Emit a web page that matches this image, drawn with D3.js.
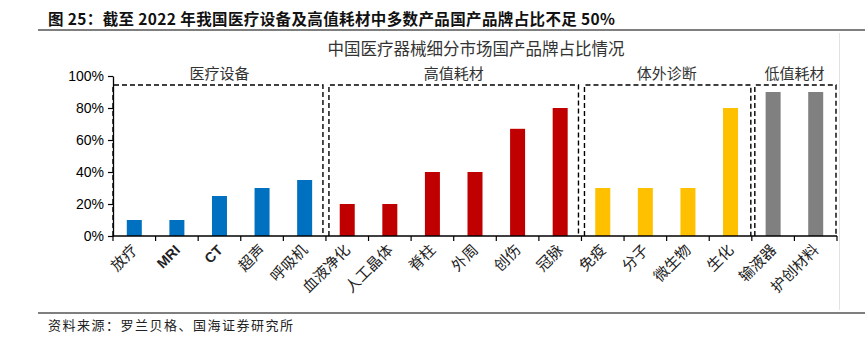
<!DOCTYPE html>
<html>
<head>
<meta charset="utf-8">
<script src="https://cdn.jsdelivr.net/npm/d3@7"></script>
<style>
  html, body { margin: 0; padding: 0; background: #fff; }
  svg { display: block; }
</style>
</head>
<body>
<svg id="chart" width="868" height="344"></svg>
<script>
// Product categories, grouped by segment
const categories = ["放疗", "MRI", "CT", "超声", "呼吸机",
  "血液净化", "人工晶体", "脊柱", "外周", "创伤", "冠脉",
  "免疫", "分子", "微生物", "生化",
  "输液器", "护创材料"];
// Share of domestic brands (%)
const shares = [10, 10, 25, 30, 35,
  20, 20, 40, 40, 67, 80,
  30, 30, 30, 80,
  90, 90];
// Segment of each category
const groupOf = [0, 0, 0, 0, 0, 1, 1, 1, 1, 1, 1, 2, 2, 2, 2, 3, 3];
const groupNames = ["医疗设备", "高值耗材", "体外诊断", "低值耗材"];
const groupColors = ["#0070C0", "#C00000", "#FFC000", "#808080"];
const yTicks = [0, 20, 40, 60, 80, 100];

const svg = d3.select("#chart");
const cjk = "'Noto Sans CJK SC', 'Noto Sans', sans-serif";

// Header
svg.append("text")
  .attr("x", 48).attr("y", 25)
  .attr("font-family", cjk).attr("font-weight", "bold")
  .attr("font-size", 15.5).attr("fill", "#111")
  .attr("textLength", 567).attr("lengthAdjust", "spacing")
  .text("图 25：截至 2022 年我国医疗设备及高值耗材中多数产品国产品牌占比不足 50%");
svg.append("line").attr("x1", 38).attr("x2", 865).attr("y1", 30).attr("y2", 30)
  .attr("stroke", "#555").attr("stroke-width", 1.3);

// Footer
svg.append("line").attr("x1", 38).attr("x2", 865).attr("y1", 313).attr("y2", 313)
  .attr("stroke", "#555").attr("stroke-width", 1.3);
svg.append("text")
  .attr("x", 48).attr("y", 330)
  .attr("font-family", cjk).attr("font-size", 13).attr("fill", "#222")
  .attr("textLength", 245).attr("lengthAdjust", "spacing")
  .text("资料来源：罗兰贝格、国海证券研究所");

// Frame edge on the right
svg.append("line").attr("x1", 839.5).attr("x2", 839.5).attr("y1", 33).attr("y2", 310)
  .attr("stroke", "#e2e2e2").attr("stroke-width", 1);

// Chart title
svg.append("text")
  .attr("x", 476).attr("y", 55).attr("text-anchor", "middle")
  .attr("font-family", cjk).attr("font-size", 16.5).attr("fill", "#333")
  .text("中国医疗器械细分市场国产品牌占比情况");

// Scales
const x = d3.scaleBand().domain(categories).range([113, 837]).paddingInner(0).paddingOuter(0);
const y = d3.scaleLinear().domain([0, 100]).range([236, 76]);
const barW = 15;

// Dashed group boxes
const groupIdx = d3.range(groupNames.length);
const boxes = groupIdx.map(g => {
  const members = categories.filter((c, i) => groupOf[i] === g);
  const first = x(members[0]), last = x(members[members.length - 1]) + x.bandwidth();
  return { g, x0: first, x1: last };
});
const boxInset = [[0, -3], [3, -3], [3, -1], [3, -1]];
boxes.forEach(b => {
  const [l, r] = boxInset[b.g];
  const x0 = b.x0 + l, x1 = b.x1 + r, top = 85;
  svg.append("path")
    .attr("d", `M${x0},${y(0)}V${top}H${x1}V${y(0)}`)
    .attr("fill", "none").attr("stroke", "#000")
    .attr("stroke-width", 1.4).attr("stroke-dasharray", "5,3");
  svg.append("text")
    .attr("x", (b.x0 + b.x1) / 2).attr("y", 79).attr("text-anchor", "middle")
    .attr("font-family", cjk).attr("font-size", 15).attr("fill", "#333")
    .text(groupNames[b.g]);
});

// Bars
svg.append("g").selectAll("rect").data(categories).join("rect")
  .attr("x", d => x(d) + (x.bandwidth() - barW) / 2)
  .attr("y", (d, i) => y(shares[i]))
  .attr("width", barW)
  .attr("height", (d, i) => y(0) - y(shares[i]))
  .attr("fill", (d, i) => groupColors[groupOf[i]]);

// Y axis
const yAxis = svg.append("g").attr("transform", "translate(113,0)")
  .call(d3.axisLeft(y).tickValues(yTicks).tickFormat(d => d + "%").tickSize(5).tickSizeOuter(0));
yAxis.select(".domain").attr("stroke", "#000").attr("stroke-width", 1.3);
yAxis.selectAll(".tick line").attr("stroke", "#000").attr("stroke-width", 1.2);
yAxis.selectAll(".tick text")
  .attr("font-family", "'Liberation Sans', Arial, sans-serif")
  .attr("font-size", 14).attr("fill", "#000").attr("x", -9);

// X axis: ticks at band boundaries
const xAxisG = svg.append("g");
xAxisG.append("line").attr("x1", 113).attr("x2", 837).attr("y1", y(0)).attr("y2", y(0))
  .attr("stroke", "#000").attr("stroke-width", 1.5);
const boundaries = categories.map(c => x(c)).concat([x(categories[categories.length - 1]) + x.bandwidth()]);
xAxisG.selectAll("line.tk").data(boundaries).join("line").attr("class", "tk")
  .attr("x1", d => d).attr("x2", d => d).attr("y1", y(0)).attr("y2", y(0) + 5)
  .attr("stroke", "#000").attr("stroke-width", 1.2);

// Rotated category labels
xAxisG.selectAll("text.cat").data(categories).join("text").attr("class", "cat")
  .attr("transform", d => `translate(${x(d) + x.bandwidth() / 2 + 4},${y(0) + 15}) rotate(-45)`)
  .attr("text-anchor", "end")
  .attr("font-family", d => /^[A-Z]+$/.test(d) ? "'Liberation Sans', Arial, sans-serif" : cjk)
  .attr("font-weight", d => /^[A-Z]+$/.test(d) ? "bold" : "normal")
  .attr("font-size", d => /^[A-Z]+$/.test(d) ? 14 : 15)
  .attr("fill", "#222")
  .text(d => d);
</script>
</body>
</html>
